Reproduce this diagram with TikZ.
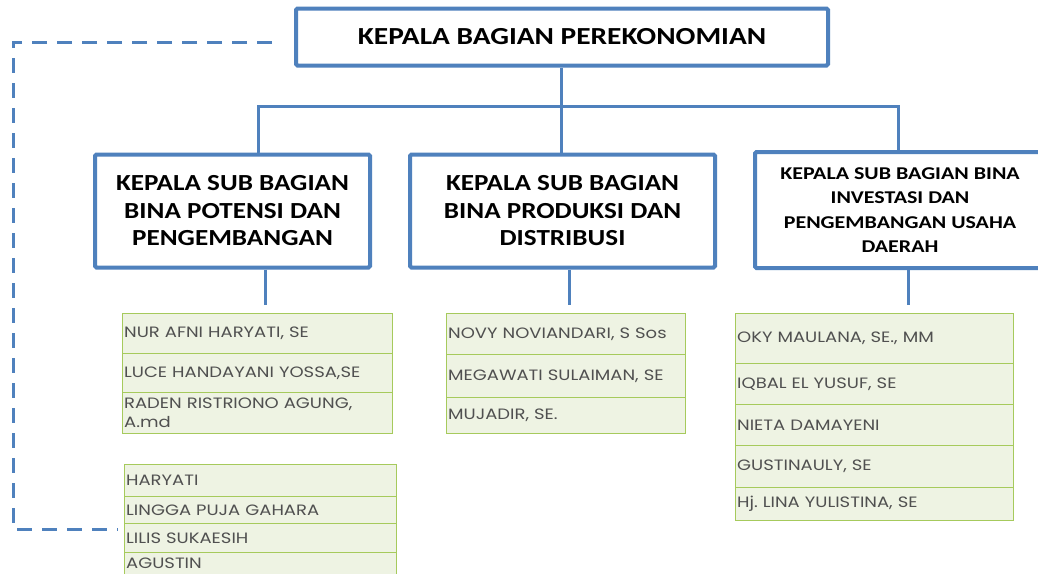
\documentclass[tikz,border=0pt]{standalone}
\usepackage{fontspec}
\setmainfont{Carlito}
\newfontfamily\listfont[FakeStretch=1.2]{Poppins}
\newfontfamily\headA[FakeStretch=1.2]{Carlito}
\newfontfamily\headB[FakeStretch=1.18]{Carlito}
\newfontfamily\headC[FakeStretch=1.22]{Carlito}
\definecolor{boxblue}{HTML}{4F81BD}
\definecolor{listgreen}{HTML}{A6CA5C}
\definecolor{listfill}{HTML}{EEF3E3}
\definecolor{listtext}{HTML}{505050}
\begin{document}
\begin{tikzpicture}[x=1pt,y=-1pt,
  headbox/.style={draw=boxblue, line width=4pt, rounded corners=1.5pt, fill=white, align=center, inner sep=0pt},
  conn/.style={draw=boxblue, line width=3pt},
  dashconn/.style={draw=boxblue, line width=3pt, dash pattern=on 15pt off 10pt},
  listrow/.style={draw=listgreen, line width=1.3pt, fill=listfill, anchor=north west, inner xsep=1.5pt, inner ysep=0pt, align=left, text=listtext, font=\listfont\frenchspacing\fontsize{15}{19}\selectfont},
]
\useasboundingbox (0,0) rectangle (1038,573);
\clip (0,0) rectangle (1038,573);
\fill[white] (0,0) rectangle (1038,573);

% head boxes
\node[headbox, minimum width=532pt, minimum height=57pt, font=\headA\bfseries\fontsize{24.5}{26}\selectfont] (top) at (562,37) {KEPALA BAGIAN PEREKONOMIAN};
\node[headbox, minimum width=275pt, minimum height=113pt, font=\headB\bfseries\fontsize{23}{27.5}\selectfont] (b1) at (232.5,211) {KEPALA SUB BAGIAN\\BINA POTENSI DAN\\PENGEMBANGAN};
\node[headbox, minimum width=305pt, minimum height=113pt, font=\headB\bfseries\fontsize{23}{27.5}\selectfont] (b2) at (562.5,211) {KEPALA SUB BAGIAN\\BINA PRODUKSI DAN\\DISTRIBUSI};
\node[headbox, minimum width=290pt, minimum height=116pt, font=\headC\bfseries\fontsize{18}{24.5}\selectfont] (b3) at (900,210) {KEPALA SUB BAGIAN BINA\\INVESTASI DAN\\PENGEMBANGAN USAHA\\DAERAH};

% connectors top
\coordinate (hub) at (561,106);
\coordinate (j1) at (258,106);
\coordinate (j3) at (898,106);
\draw[conn] (top.south -| hub) -- (hub |- b2.north);
\draw[conn, line cap=round] (j1 |- b1.north) -- (j1) -- (j3) -- (j3 |- b3.north);

% lists
\node[listrow, text width=267pt, minimum height=40pt] (l1a) at (122,313) {NUR AFNI HARYATI, SE};
\node[listrow, text width=267pt, minimum height=39pt] (l1b) at (122,353) {LUCE HANDAYANI YOSSA,SE};
\node[listrow, text width=267pt, minimum height=41pt] (l1c) at (122,392) {RADEN RISTRIONO AGUNG,\\A.md};

\node[listrow, text width=236pt, minimum height=41pt] (l2a) at (446,313) {NOVY NOVIANDARI, S Sos};
\node[listrow, text width=236pt, minimum height=43pt] (l2b) at (446,354) {MEGAWATI SULAIMAN, SE};
\node[listrow, text width=236pt, minimum height=36pt] (l2c) at (446,397) {MUJADIR, SE.};

\node[listrow, text width=275pt, minimum height=50pt] (l3a) at (735,313) {OKY MAULANA, SE., MM};
\node[listrow, text width=275pt, minimum height=41pt] (l3b) at (735,363) {IQBAL EL YUSUF, SE};
\node[listrow, text width=275pt, minimum height=41pt] (l3c) at (735,404) {NIETA DAMAYENI};
\node[listrow, text width=275pt, minimum height=42pt] (l3d) at (735,445) {GUSTINAULY, SE};
\node[listrow, text width=275pt, minimum height=33pt] (l3e) at (735,487) {Hj. LINA YULISTINA, SE};

\node[listrow, text width=269pt, minimum height=32pt] (l4a) at (124,464) {HARYATI};
\node[listrow, text width=269pt, minimum height=27pt] (l4b) at (124,496) {LINGGA PUJA GAHARA};
\node[listrow, text width=269pt, minimum height=29pt] (l4c) at (124,523) {LILIS SUKAESIH};
\node[listrow, text width=269pt, minimum height=30pt] (l4d) at (124,552) {AGUSTIN\rule[-9pt]{0pt}{9pt}};

% connectors down
\coordinate (d1) at (265,305);
\coordinate (d2) at (569,305);
\coordinate (d3) at (908,305);
\draw[conn] (d1 |- b1.south) -- (d1);
\draw[conn] (d2 |- b2.south) -- (d2);
\draw[conn] (d3 |- b3.south) -- (d3);

% dashed link
\coordinate (ds) at (272,42);
\coordinate (de) at (118,529);
\draw[dashconn] (ds) -- (13,42) -- (13,529) -- (de);
\end{tikzpicture}
\end{document}
